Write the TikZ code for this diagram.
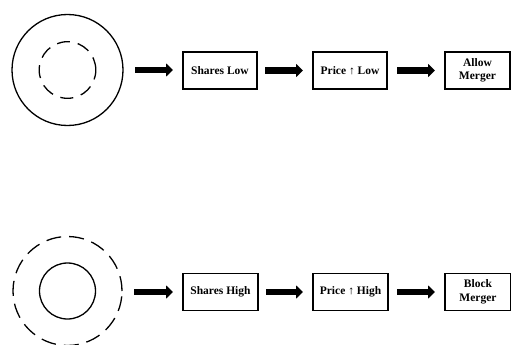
\documentclass[tikz,border=0pt]{standalone}
\usepackage{fontspec}
\setmainfont{Liberation Serif}
\usetikzlibrary{arrows.meta}
\begin{document}
\begin{tikzpicture}[x=1pt,y=-1pt,
  ring/.style={circle, draw, line width=1.3pt, inner sep=0pt, outer sep=0pt},
  dashring/.style={ring, dash pattern=on 13pt off 8pt},
  box/.style={draw, line width=1.2pt, minimum height=37pt, inner sep=2pt, outer sep=0pt,
    align=center, font=\fontsize{11.5}{13.5}\selectfont\bfseries},
  fat/.style={line width=6pt, -{Triangle[length=7pt,width=13pt]}, shorten >=10pt}
]
\useasboundingbox (0,0) rectangle (511,345);
% top row
\node[ring, minimum size=111pt] (o1) at (67.5,70) {};
\node[dashring, minimum size=56.6pt] (i1) at (67.5,70) {};
\node[box, minimum width=74pt] (s1) at (220,70.5) {Shares Low};
\node[box, minimum width=74pt] (p1) at (350,70.5) {Price ↑ Low};
\node[box, minimum width=65pt] (m1) at (477.5,70.5) {Allow\\Merger};
\draw[fat, shorten <=12pt] (o1.east) -- (o1.east -| s1.west);
\draw[fat, shorten <=8pt] (s1) -- (p1);
\draw[fat, shorten <=10pt] (p1) -- (m1);
% bottom row
\node[dashring, dash pattern=on 15pt off 8pt, minimum size=109pt] (o2) at (67.5,291) {};
\node[ring, minimum size=56pt] (i2) at (67.5,291) {};
\node[box, minimum width=75pt] (s2) at (220.5,292) {Shares High};
\node[box, minimum width=75pt] (p2) at (350.5,292) {Price ↑ High};
\node[box, minimum width=66pt] (m2) at (478,292) {Block\\Merger};
\draw[fat, shorten <=12pt] (o2.east |- s2) -- (s2.west);
\draw[fat, shorten <=8pt] (s2) -- (p2);
\draw[fat, shorten <=9pt] (p2) -- (m2);
\end{tikzpicture}
\end{document}
